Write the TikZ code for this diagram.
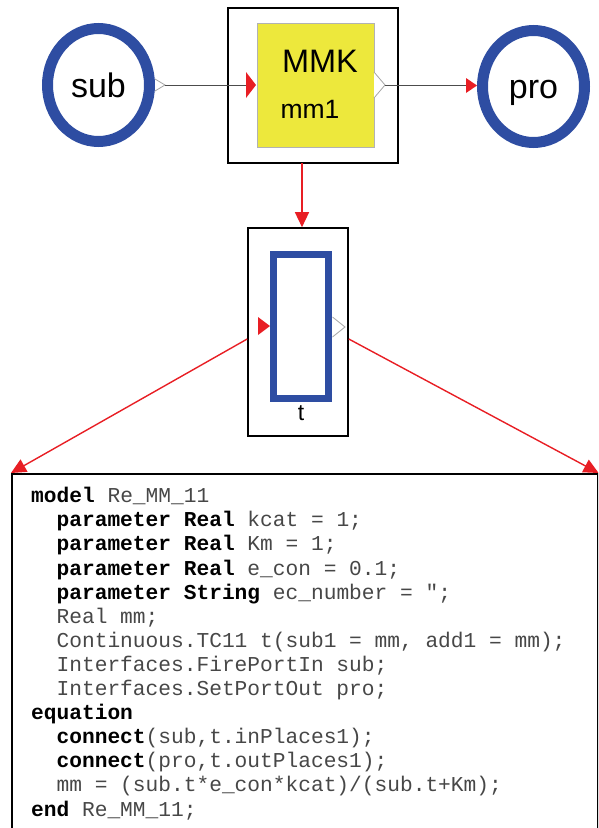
\documentclass[tikz,border=0pt]{standalone}
\usepackage{fontspec}
\usepackage{tikz}
\usetikzlibrary{arrows.meta, shapes.geometric}
\newfontfamily\diagfont{Liberation Sans}
\newfontfamily\listfont{Liberation Mono}
\definecolor{placeblue}{RGB}{46,77,162}
\definecolor{blockyellow}{RGB}{237,232,60}
\definecolor{flowred}{RGB}{232,30,36}
\newcommand{\ind}{\hphantom{xx}}
\newcommand{\kw}[1]{\textbf{\color{black}#1}}

\tikzset{
  placering/.style={ellipse, draw=placeblue, line width=11pt, inner sep=0pt, text height=24pt, text depth=0pt,
    font=\diagfont\fontsize{34}{34}\selectfont},
  frame/.style={rectangle, draw=black, line width=1.6pt, inner sep=0pt},
  inport/.style={fill=flowred, draw=none},
  outport/.style={draw=black!35, line width=0.8pt, fill=white},
  link/.style={draw=black!70, line width=1pt},
  flow/.style={draw=flowred, line width=1.4pt, -{Triangle[length=15pt, width=14pt]}}
}

\begin{document}
\begin{tikzpicture}[x=1pt, y=-1pt]
    \useasboundingbox (0,0) rectangle (598,828);
    \clip (0,0) rectangle (598,828);

    % Places
    \node[placering, minimum width=102pt, minimum height=113pt] (sub) at (98.5,85) {sub};
    \node[placering, minimum width=102pt, minimum height=112pt] (pro) at (533.5,86.5) {pro};

    % Reaction block
    \node[frame, minimum width=170pt, minimum height=155pt] (mmkbox) at (313,85.5) {};
    \node[rectangle, draw=black!30, line width=0.6pt, fill=blockyellow, minimum width=117pt, minimum height=124pt] (mm1) at (315.5,85) {};
    \node[font=\diagfont\fontsize{32.5}{32.5}\selectfont] (mmklabel) at (320,61.5) {MMK};
    \node[font=\diagfont\fontsize{26.5}{26.5}\selectfont] (mm1label) at (310,109) {mm1};

    % Ports of the block and the places
    \draw[outport] (155,79) -- (165,85) -- (155,91);
    \draw[inport] (246,72) -- (256,85) -- (246,98) -- cycle;
    \draw[outport] (374,72) -- (385,85) -- (374,98);
    \draw[inport] (466,78) -- (477,85.5) -- (466,93) -- cycle;
    \coordinate (subout) at (165,85);
    \coordinate (mmkin) at (246,85);
    \coordinate (mmkout) at (385,85);
    \coordinate (proin) at (466,85);
    \draw[link] (subout) -- (mmkin);
    \draw[link] (mmkout) -- (proin);

    % Transition
    \node[frame, minimum width=100pt, minimum height=208pt] (tbox) at (298,332) {};
    \node[rectangle, draw=placeblue, line width=7pt, minimum width=55pt, minimum height=144pt, inner sep=0pt] (trect) at (301,326.5) {};
    \node[font=\diagfont\fontsize{23}{23}\selectfont] (tlabel) at (301,413) {t};
    \draw[inport] (258,317) -- (270,326) -- (258,335) -- cycle;
    \draw[outport] (332.5,317) -- (345,327) -- (332.5,337);

    % Code
    \node[frame, minimum width=586pt, minimum height=420pt, anchor=north west] (codebox) at (11,473) {};
    \node[anchor=base west, align=left, inner sep=0pt, text=black!72,
          font=\listfont\fontsize{21.2}{24.1}\selectfont] (code) at (31,816) {%
      \kw{model} Re\_MM\_11\\
      \ind\kw{parameter Real} kcat = 1;\\
      \ind\kw{parameter Real} Km = 1;\\
      \ind\kw{parameter Real} e\_con = 0.1;\\
      \ind\kw{parameter String} ec\_number = ";\\
      \ind Real mm;\\
      \ind Continuous.TC11 t(sub1 = mm, add1 = mm);\\
      \ind Interfaces.FirePortIn sub;\\
      \ind Interfaces.SetPortOut pro;\\
      \kw{equation}\\
      \ind\kw{connect}(sub,t.inPlaces1);\\
      \ind\kw{connect}(pro,t.outPlaces1);\\
      \ind mm = (sub.t*e\_con*kcat)/(sub.t+Km);\\
      \kw{end} Re\_MM\_11;};

    % Red arrows
    \coordinate (mmkdown) at (302,163);
    \draw[flow] (mmkdown) -- (mmkdown |- tbox.north);
    \draw[flow] ([yshift=-7pt]tbox.west) -- (codebox.north west);
    \draw[flow] ([yshift=-7pt]tbox.east) -- (codebox.north east);
\end{tikzpicture}
\end{document}
